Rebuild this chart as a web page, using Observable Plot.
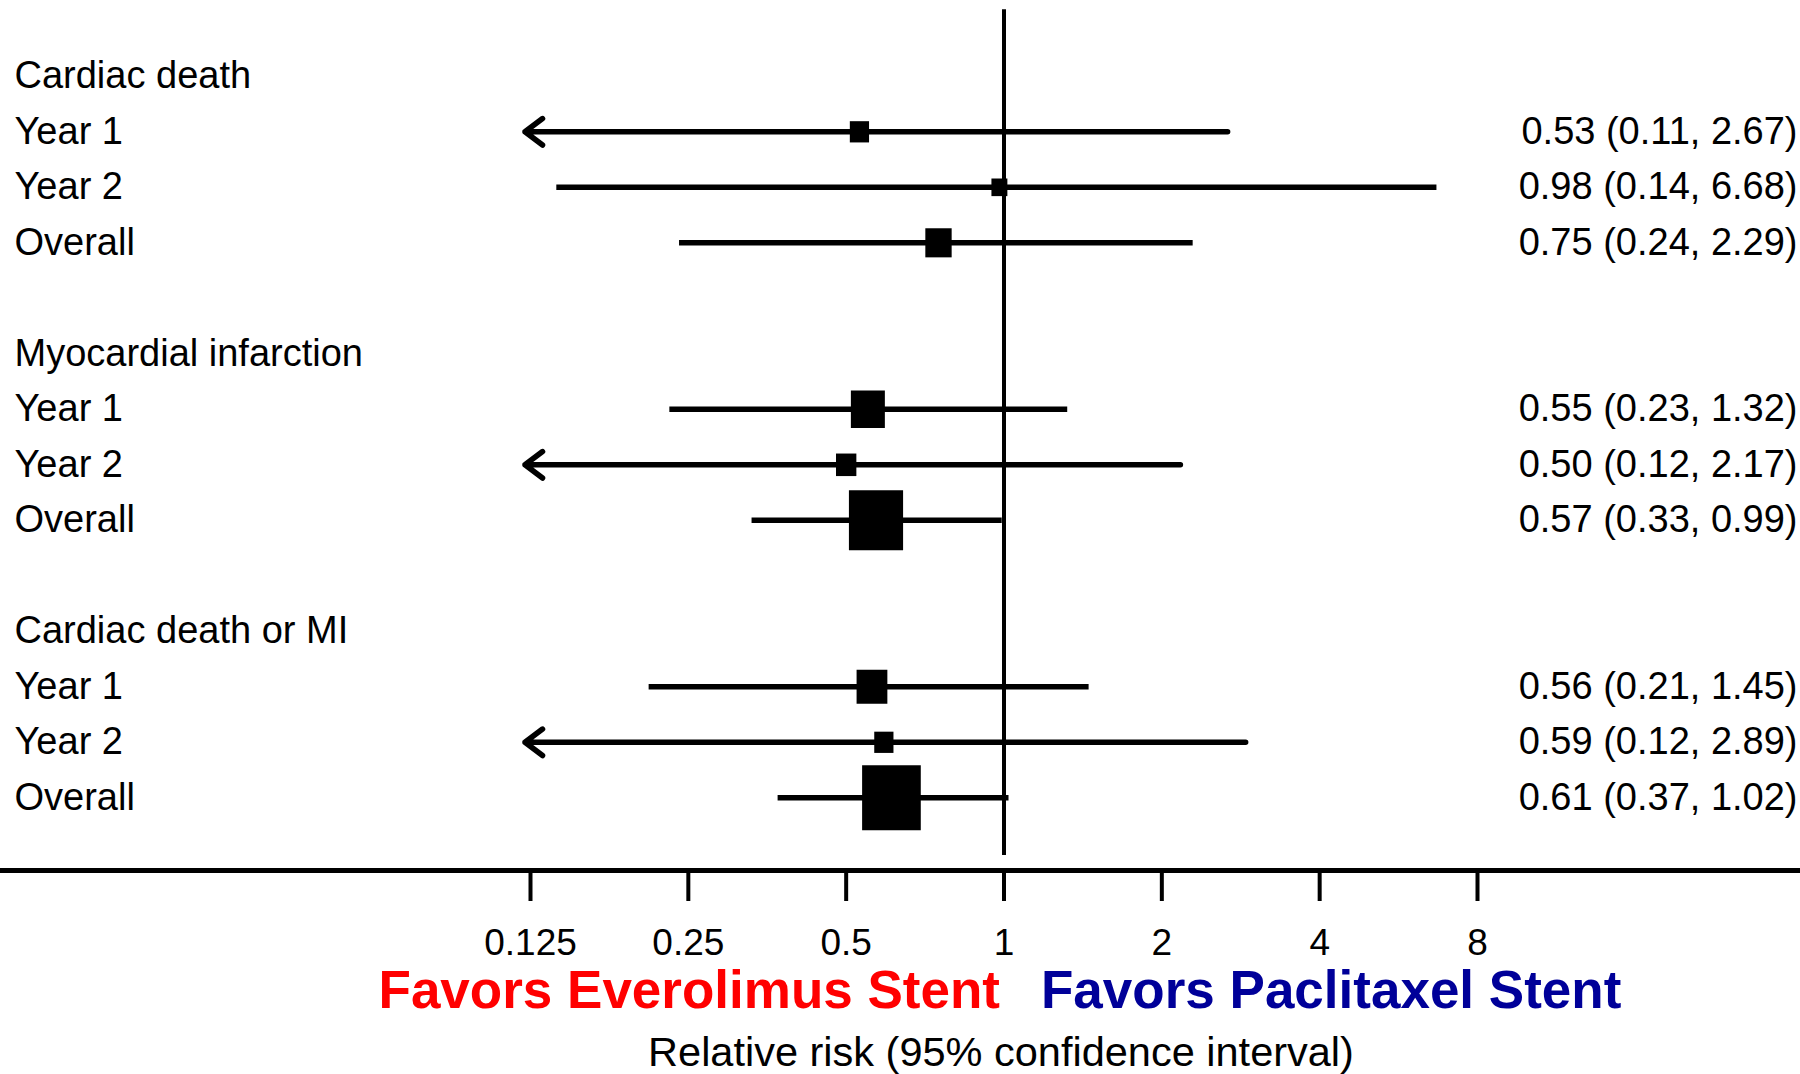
<!DOCTYPE html>
<html>
<head>
<meta charset="utf-8">
<script src="https://cdn.jsdelivr.net/npm/d3@7"></script>
<script src="https://cdn.jsdelivr.net/npm/@observablehq/plot@0.6"></script>
<style>
  html, body { margin: 0; padding: 0; background: #ffffff; }
  #chart svg { display: block; }
</style>
</head>
<body>
<div id="chart"></div>
<script>
// ---- data ----
const groups = ["Cardiac death", "Myocardial infarction", "Cardiac death or MI"];
const periods = ["Year 1", "Year 2", "Overall"];
const relRisk = [0.53, 0.98, 0.75, 0.55, 0.50, 0.57, 0.56, 0.59, 0.61];
const lowerCI = [0.11, 0.14, 0.24, 0.23, 0.12, 0.33, 0.21, 0.12, 0.37];
const upperCI = [2.67, 6.68, 2.29, 1.32, 2.17, 0.99, 1.45, 2.89, 1.02];
// relative weights (square area)
const weights = [1.6, 1.1, 3.0, 5.0, 1.8, 12.7, 4.1, 1.6, 14.9];
const tickValues = [0.125, 0.25, 0.5, 1, 2, 4, 8];
const tickLabels = ["0.125", "0.25", "0.5", "1", "2", "4", "8"];
const axisLowest = 0.125;   // CIs reaching below this are truncated with an arrow
const arrowTip = 0.122;
const favorsLabels = ["Favors Everolimus Stent", "Favors Paclitaxel Stent"];
const axisTitle = "Relative risk (95% confidence interval)";

// ---- build rows (header, three periods, blank line per group) ----
const headers = groups.map((g, gi) => ({label: g, row: gi * 5}));
const items = [];
groups.forEach((g, gi) => {
  periods.forEach((p, pi) => {
    const k = gi * 3 + pi;
    items.push({
      label: p,
      row: gi * 5 + 1 + pi,
      rr: relRisk[k],
      lo: lowerCI[k],
      hi: upperCI[k],
      w: weights[k],
      text: `${relRisk[k].toFixed(2)} (${lowerCI[k].toFixed(2)}, ${upperCI[k].toFixed(2)})`
    });
  });
});
const full = items.filter(d => d.lo >= axisLowest);
const truncated = items.filter(d => d.lo < axisLowest);

const font = "'Liberation Sans', Arial, Helvetica, sans-serif";
const W = 1800, H = 1074;
const mL = 530, mR = 323, mT = 0, mB = 204;
const rowTop = -1.366, rowBottom = 14.31;

const box = {
  draw(context, size) {
    const r = Math.sqrt(size / Math.PI);
    const w = r * 0.95, h = r * 1.05;
    context.rect(-w, -h, 2 * w, 2 * h);
  }
};

const chart = Plot.plot({
  width: W,
  height: H,
  marginLeft: mL,
  marginRight: mR,
  marginTop: mT,
  marginBottom: mB,
  style: {fontFamily: font, background: "#ffffff", color: "#000000"},
  x: {type: "log", base: 2, domain: [0.125, 8]},
  y: {type: "linear", domain: [rowTop, rowBottom], reverse: true, axis: null},
  r: {type: "sqrt", domain: [0, 16], range: [0, 32]},
  marks: [
    // x axis ticks and labels
    Plot.axisX(tickValues, {
      tickSize: 31, tickPadding: 27, fontSize: 37, strokeWidth: 4,
      tickFormat: (d) => tickLabels[tickValues.indexOf(d)],
      lineAnchor: "top", label: null, textStroke: null
    }),
    Plot.ruleY([rowBottom], {insetLeft: -mL, insetRight: -mR, strokeWidth: 5, stroke: "#000"}),
    // CI lines
    Plot.link(full, {x1: "lo", x2: "hi", y1: "row", y2: "row", stroke: "#000", strokeWidth: 5.5}),
    Plot.arrow(truncated, {x1: "hi", x2: () => arrowTip, y1: "row", y2: "row",
      stroke: "#000", strokeWidth: 5.5, headLength: 6, headAngle: 74}),
    // line of no effect
    Plot.ruleX([1], {y1: -1.2, y2: 14.04, stroke: "#000", strokeWidth: 4}),
    // point estimates
    Plot.dot(items, {x: "rr", y: "row", r: "w", symbol: box, fill: "#000", stroke: null}),
    // left labels
    Plot.text(headers, {y: "row", text: "label", frameAnchor: "left", dx: 14 - mL,
      textAnchor: "start", lineAnchor: "middle", fontSize: 38, fill: "#000"}),
    Plot.text(items, {y: "row", text: "label", frameAnchor: "left", dx: 14 - mL,
      textAnchor: "start", lineAnchor: "middle", fontSize: 38, fill: "#000"}),
    // right labels
    Plot.text(items, {y: "row", text: "text", frameAnchor: "right", dx: 320,
      textAnchor: "end", lineAnchor: "middle", fontSize: 38, fill: "#000"}),
    // favors labels
    Plot.text([favorsLabels[0]], {x: [1], text: d => d, frameAnchor: "bottom", dy: 121,
      dx: -4, textAnchor: "end", lineAnchor: "middle", fontSize: 53, fontWeight: "bold", fill: "#ff0000"}),
    Plot.text([favorsLabels[1]], {x: [1], text: d => d, frameAnchor: "bottom", dy: 121,
      dx: 37, textAnchor: "start", lineAnchor: "middle", fontSize: 53, fontWeight: "bold", fill: "#000099"}),
    Plot.text([axisTitle], {x: [1], text: d => d, frameAnchor: "bottom", dy: 182,
      dx: -3, textAnchor: "middle", lineAnchor: "middle", fontSize: 41.5, fill: "#000"})
  ]
});
document.getElementById("chart").appendChild(chart);
</script>
</body>
</html>
